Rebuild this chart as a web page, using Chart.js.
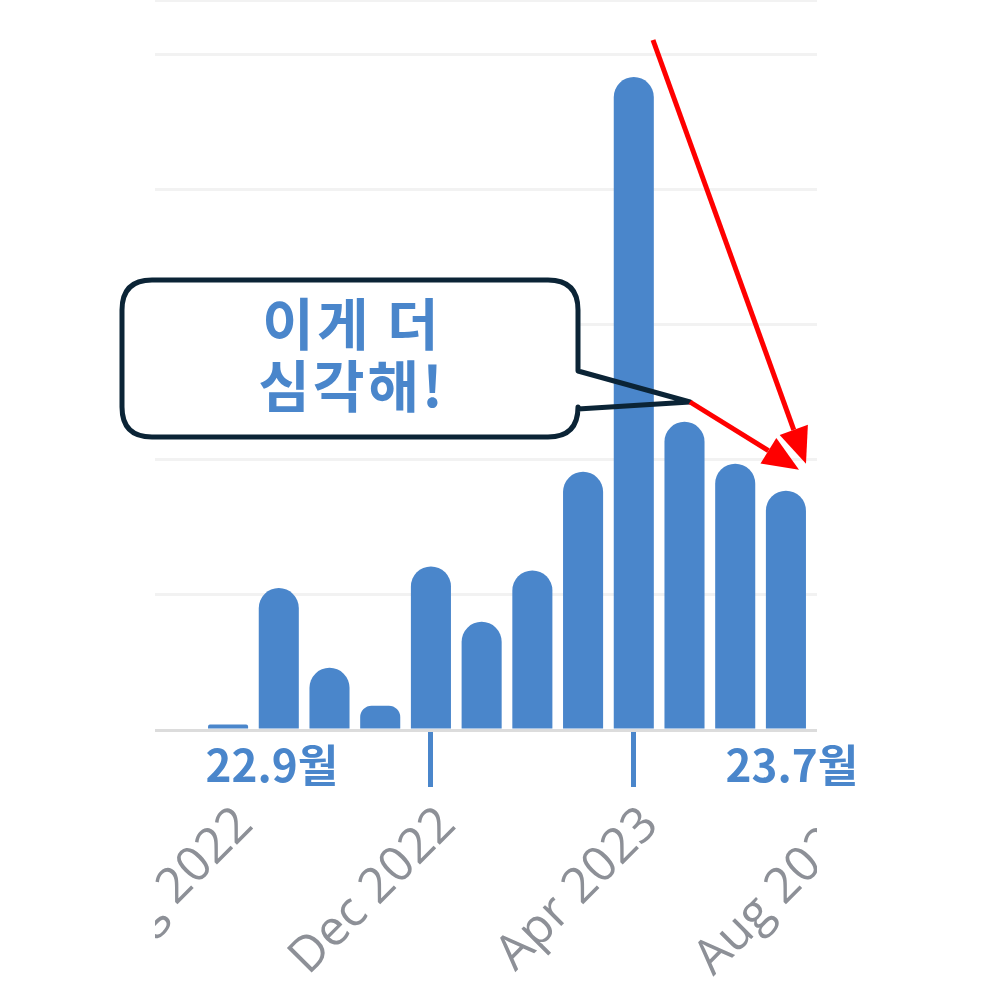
<!DOCTYPE html>
<html>
<head>
<meta charset="utf-8">
<script src="https://cdn.jsdelivr.net/npm/chart.js@4"></script>
<style>
  body { margin: 0; background: #fff; }
  canvas { display: block; }
</style>
</head>
<body>
<canvas id="chart" width="1004" height="1004"></canvas>
<script>
// months shown (the first and last are cut off by the crop)
var months = ['Jul 2022', 'Aug 2022', 'Sep 2022', 'Oct 2022', 'Nov 2022', 'Dec 2022', 'Jan 2023',
  'Feb 2023', 'Mar 2023', 'Apr 2023', 'May 2023', 'Jun 2023', 'Jul 2023', 'Aug 2023'];
var counts = [null, 4, 105, 46, 18, 121, 80, 118, 191, 483, 228, 197, 177, null];
var shownTicks = ['Aug 2022', 'Dec 2022', 'Apr 2023', 'Aug 2023'];
var blueTicks = ['Dec 2022', 'Apr 2023'];
var noteFrom = 'Sep 2022', noteTo = 'Jul 2023';

var blue = '#4a86cb';

// crop the chart like the screenshot it came from
var cropPlugin = {
  id: 'crop',
  beforeDraw: function (chart) {
    var c = chart.ctx;
    c.save();
    c.beginPath();
    c.rect(155, 0, 662, 1004);
    c.clip();
  },
  afterDatasetsDraw: function (chart) {
    chart.ctx.restore();
  }
};

function arrow(c, x1, y1, x2, y2) {
  var a = Math.atan2(y2 - y1, x2 - x1);
  var len = 36, half = 15;
  var bx = x2 - len * Math.cos(a), by = y2 - len * Math.sin(a);
  c.beginPath();
  c.moveTo(x1, y1);
  c.lineTo(bx, by);
  c.stroke();
  c.beginPath();
  c.moveTo(x2, y2);
  c.lineTo(bx + half * Math.sin(a), by - half * Math.cos(a));
  c.lineTo(bx - half * Math.sin(a), by + half * Math.cos(a));
  c.closePath();
  c.fill();
}

var notePlugin = {
  id: 'notes',
  afterDraw: function (chart) {
    var c = chart.ctx;
    var xs = chart.scales.x, ys = chart.scales.y;
    c.save();

    // month notes under the axis
    c.fillStyle = blue;
    c.font = 'bold 44px "Noto Sans CJK KR"';
    c.textAlign = 'center';
    c.textBaseline = 'alphabetic';
    c.fillText('22.9월', xs.getPixelForValue(noteFrom) - 7, 782);
    c.fillText('23.7월', xs.getPixelForValue(noteTo) + 6, 782);

    // speech bubble
    var L = 122, T = 280, R = 578, B = 437, r = 30;
    c.beginPath();
    c.moveTo(L + r, T);
    c.lineTo(R - r, T);
    c.quadraticCurveTo(R, T, R, T + r);
    c.lineTo(R, B - r);
    c.quadraticCurveTo(R, B, R - r, B);
    c.lineTo(L + r, B);
    c.quadraticCurveTo(L, B, L, B - r);
    c.lineTo(L, T + r);
    c.quadraticCurveTo(L, T, L + r, T);
    c.closePath();
    c.fillStyle = '#fff';
    c.fill();

    c.beginPath();
    c.moveTo(L + r, T);
    c.lineTo(R - r, T);
    c.quadraticCurveTo(R, T, R, T + r);
    c.lineTo(R, 371);
    c.lineTo(690, 402);
    c.lineTo(R, 409);
    c.lineTo(R, B - r);
    c.quadraticCurveTo(R, B, R - r, B);
    c.lineTo(L + r, B);
    c.quadraticCurveTo(L, B, L, B - r);
    c.lineTo(L, T + r);
    c.quadraticCurveTo(L, T, L + r, T);
    c.closePath();
    c.strokeStyle = '#0b2436';
    c.lineWidth = 5;
    c.lineJoin = 'round';
    c.stroke();

    c.fillStyle = blue;
    c.font = 'bold 56px "Noto Sans CJK KR"';
    c.letterSpacing = '3px';
    c.textAlign = 'center';
    c.textBaseline = 'middle';
    c.fillText('이게 더', 352, 324);
    c.fillText('심각해!', 352, 386);
    c.letterSpacing = '0px';

    // red arrows to the latest months
    c.strokeStyle = '#ff0000';
    c.fillStyle = '#ff0000';
    c.lineWidth = 5;
    c.lineCap = 'butt';
    var tipY = ys.getPixelForValue(197);
    arrow(c, 653, 40, 806, tipY);
    arrow(c, 690, 402, 799, tipY + 6);

    c.restore();
  }
};

var ctx = document.getElementById('chart');
new Chart(ctx, {
  type: 'bar',
  data: {
    labels: months,
    datasets: [{
      data: counts,
      backgroundColor: blue,
      borderRadius: 20,
      borderSkipped: 'start',
      barPercentage: 0.79,
      categoryPercentage: 1
    }]
  },
  options: {
    responsive: false,
    animation: false,
    devicePixelRatio: 1,
    layout: { padding: { left: 152, right: 142, top: 0, bottom: 0 } },
    plugins: {
      legend: { display: false },
      tooltip: { enabled: false }
    },
    scales: {
      x: {
        afterFit: function (scale) { scale.height = 274; },
        border: { color: '#dcdcdc', width: 3 },
        grid: {
          offset: false,
          drawOnChartArea: false,
          tickLength: 57,
          tickWidth: 5,
          tickColor: function (c) {
            return blueTicks.indexOf(months[c.index]) >= 0 ? blue : 'rgba(0,0,0,0)';
          }
        },
        ticks: {
          autoSkip: false,
          minRotation: 45,
          maxRotation: 45,
          padding: 9,
          labelOffset: 17,
          color: '#8d9097',
          font: { family: '"Open Sans"', size: 49 },
          callback: function (v, i) {
            return shownTicks.indexOf(months[i]) >= 0 ? months[i] : '';
          }
        }
      },
      y: {
        min: 0,
        max: 540,
        afterFit: function (scale) { scale.width = 0; },
        border: { display: false },
        grid: { color: '#f2f2f2', lineWidth: 3, drawTicks: false },
        ticks: { display: false, stepSize: 100 }
      }
    }
  },
  plugins: [cropPlugin, notePlugin]
});
</script>
</body>
</html>
